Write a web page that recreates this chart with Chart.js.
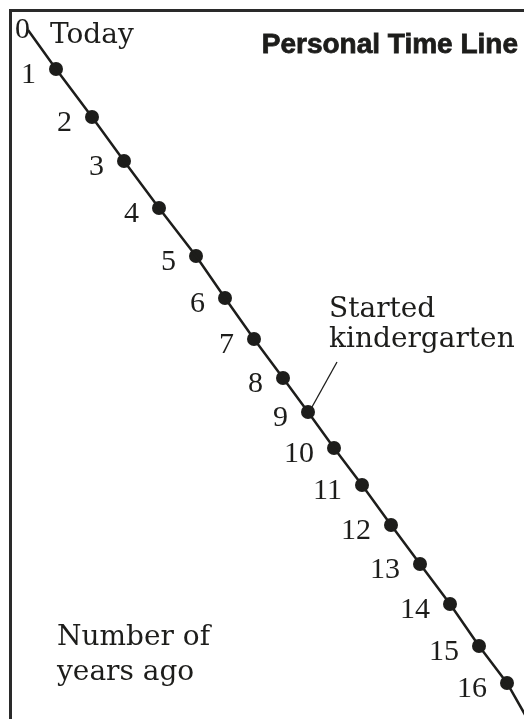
<!DOCTYPE html>
<html>
<head>
<meta charset="utf-8">
<title>Personal Time Line</title>
<script src="https://cdn.jsdelivr.net/npm/chart.js@4.4.0/dist/chart.umd.min.js"></script>
<style>
  html, body { margin: 0; padding: 0; background: #ffffff; }
  #wrap { position: relative; width: 524px; height: 719px; }
</style>
</head>
<body>
<div id="wrap"><canvas id="timeline"></canvas></div>
<script>
// ============================================================
// Personal Time Line - years marked along a slanted line
// ============================================================

// --- Data (layout units of 10px) ---
var years = [0, 1, 2, 3, 4, 5, 6, 7, 8, 9, 10, 11, 12, 13, 14, 15, 16];
var markX = [2.8, 5.6, 9.2, 12.4, 15.9, 19.6, 22.5, 25.4, 28.3, 30.8, 33.4, 36.2, 39.1, 42.0, 45.0, 47.9, 50.7];
var markY = [3.0, 6.9, 11.7, 16.1, 20.8, 25.6, 29.8, 33.9, 37.8, 41.2, 44.8, 48.5, 52.5, 56.4, 60.4, 64.6, 68.3];
var lineTail = { x: 53.6, y: 73.4 };   // line runs on past the last mark, off the page
var eventYear = 9;
var eventText = ['Started', 'kindergarten'];
var todayText = 'Today';
var axisNote = ['Number of', 'years ago'];
var chartTitle = 'Personal Time Line';

var INK = '#1d1d1b';
var SERIF_WORDS = '28px "DejaVu Serif", serif';
var SERIF_DIGITS = '30px "Liberation Serif", serif';

var points = years.map(function(y, i) { return { x: markX[i], y: markY[i] }; });
var linePoints = points.concat([lineTail]);

// --- Labels, frame and notes drawn on top of the chart ---
var timelineText = {
  id: 'timelineText',
  beforeDraw: function(chart) {
    var ctx = chart.ctx;
    ctx.save();
    ctx.fillStyle = '#ffffff';
    ctx.fillRect(0, 0, chart.width, chart.height);
    // frame: only top and left edges show
    ctx.strokeStyle = '#2a2a2a';
    ctx.lineWidth = 3;
    ctx.beginPath();
    ctx.moveTo(10.5, chart.height);
    ctx.lineTo(10.5, 10.5);
    ctx.lineTo(chart.width, 10.5);
    ctx.stroke();
    ctx.restore();
  },
  afterDatasetsDraw: function(chart) {
    var ctx = chart.ctx;
    var marks = chart.getDatasetMeta(1).data;
    ctx.save();
    ctx.fillStyle = INK;

    // year numbers, left of each dot
    ctx.font = SERIF_DIGITS;
    ctx.textAlign = 'right';
    ctx.textBaseline = 'alphabetic';
    years.forEach(function(yr, i) {
      var p = marks[i];
      if (yr === 0) {
        ctx.fillText(String(yr), p.x + 2, p.y + 8);
      } else {
        ctx.fillText(String(yr), p.x - 20, p.y + 14);
      }
    });

    // "Today" next to the zero mark
    ctx.font = SERIF_WORDS;
    ctx.textAlign = 'left';
    var p0 = marks[0];
    ctx.fillText(todayText, p0.x + 22, p0.y + 13);

    // event note with its leader line
    var pe = marks[years.indexOf(eventYear)];
    ctx.strokeStyle = INK;
    ctx.lineWidth = 1.3;
    ctx.beginPath();
    ctx.moveTo(pe.x + 4, pe.y - 5);
    ctx.lineTo(pe.x + 29, pe.y - 50);
    ctx.stroke();
    ctx.fillText(eventText[0], pe.x + 21, pe.y - 95);
    ctx.fillText(eventText[1], pe.x + 21, pe.y - 65);

    // axis note, lower left
    ctx.fillText(axisNote[0], 57, 645);
    ctx.fillText(axisNote[1], 57, 680);

    // title, heavy sans
    ctx.font = 'bold 28px "Liberation Sans", Arial, sans-serif';
    ctx.textAlign = 'right';
    ctx.lineWidth = 0.8;
    ctx.strokeStyle = INK;
    ctx.fillText(chartTitle, 518, 53);
    ctx.strokeText(chartTitle, 518, 53);
    ctx.restore();
  }
};

var chart = new Chart(document.getElementById('timeline'), {
  type: 'scatter',
  data: {
    datasets: [
      {
        label: 'line',
        data: linePoints,
        showLine: true,
        borderColor: INK,
        borderWidth: 2.5,
        pointRadius: 0,
        pointHoverRadius: 0
      },
      {
        label: 'years',
        data: points,
        showLine: false,
        backgroundColor: INK,
        borderWidth: 0,
        pointRadius: years.map(function(y) { return y === 0 ? 0 : 7; }),
        pointHoverRadius: 7
      }
    ]
  },
  options: {
    responsive: true,
    maintainAspectRatio: false,
    animation: false,
    events: [],
    layout: { padding: 0, autoPadding: false },
    plugins: {
      legend: { display: false },
      tooltip: { enabled: false },
      title: { display: false }
    },
    scales: {
      x: { type: 'linear', min: 0, max: 52.4, display: false },
      y: { type: 'linear', min: 0, max: 71.9, reverse: true, display: false }
    }
  },
  plugins: [timelineText]
});
</script>
</body>
</html>
